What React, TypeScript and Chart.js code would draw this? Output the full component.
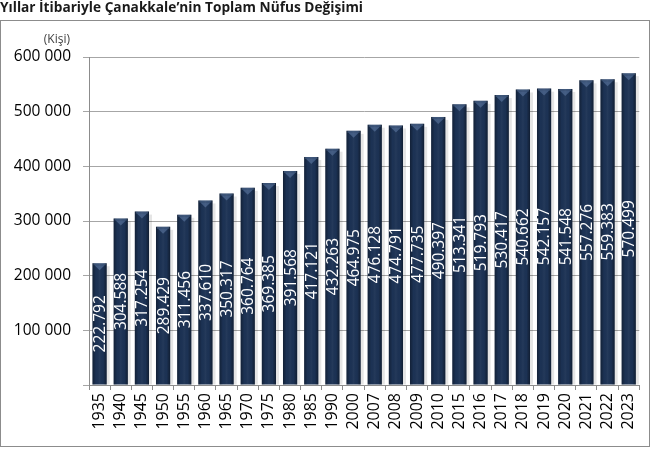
import { useEffect, useRef } from "react";
import { Chart, registerables } from "chart.js";

Chart.register(...registerables);

const TITLE = "Yıllar İtibariyle Çanakkale’nin Toplam Nüfus Değişimi";
const UNIT = "(Kişi)";

const years = [
  "1935", "1940", "1945", "1950", "1955", "1960", "1965", "1970", "1975",
  "1980", "1985", "1990", "2000", "2007", "2008", "2009", "2010", "2015",
  "2016", "2017", "2018", "2019", "2020", "2021", "2022", "2023",
];

const population = [
  222792, 304588, 317254, 289429, 311456, 337610, 350317, 360764, 369385,
  391568, 417121, 432263, 464975, 476128, 474791, 477735, 490397, 513341,
  519793, 530417, 540662, 542157, 541548, 557276, 559383, 570499,
];

const yMin = 0;
const yMax = 600000;
const yStep = 100000;

const FONT = '"Open Sans", "DejaVu Sans", sans-serif';
const BAR_COLOR = "#1c3254";

const fmtTick = (v: number) =>
  v === 0 ? "" : String(v).replace(/\B(?=(\d{3})+(?!\d))/g, " ");
const fmtValue = (v: number) =>
  String(v).replace(/\B(?=(\d{3})+(?!\d))/g, ".");

const decorPlugin = {
  id: "decor",
  beforeDraw(chart: any) {
    const ctx = chart.ctx as CanvasRenderingContext2D;
    ctx.save();
    ctx.fillStyle = "#ffffff";
    ctx.fillRect(0, 0, chart.width, chart.height);
    ctx.strokeStyle = "#8c8c8c";
    ctx.lineWidth = 1;
    ctx.strokeRect(0.5, 20.5, 649, 426);
    ctx.fillStyle = "#1a1a1a";
    ctx.font = `bold 15px ${FONT}`;
    ctx.textAlign = "left";
    ctx.textBaseline = "middle";
    ctx.fillText(TITLE, 0, 7.5, 363);
    ctx.font = `12px ${FONT}`;
    ctx.textAlign = "right";
    ctx.fillStyle = "#404040";
    const yScale = chart.scales.y;
    ctx.fillText(UNIT, 70, yScale.getPixelForValue(yMax) - 17);
    ctx.restore();
  },
  beforeDatasetsDraw(chart: any) {
    const ctx = chart.ctx as CanvasRenderingContext2D;
    const meta = chart.getDatasetMeta(0);
    ctx.save();
    ctx.fillStyle = "rgba(0,0,0,0.10)";
    meta.data.forEach((bar: any) => {
      const right = bar.x + bar.width / 2;
      ctx.fillRect(right, bar.y + 3, 3, bar.base - bar.y - 3);
    });
    ctx.restore();
  },
  afterDatasetsDraw(chart: any) {
    const ctx = chart.ctx as CanvasRenderingContext2D;
    const meta = chart.getDatasetMeta(0);
    const data = chart.data.datasets[0].data as number[];
    ctx.save();
    meta.data.forEach((bar: any, i: number) => {
      const left = bar.x - bar.width / 2;
      const right = bar.x + bar.width / 2;
      const top = bar.y;
      const bottom = bar.base;
      const g = ctx.createLinearGradient(left, 0, right, 0);
      g.addColorStop(0, "rgba(0,0,0,0.35)");
      g.addColorStop(0.25, "rgba(0,0,0,0.0)");
      g.addColorStop(0.5, "rgba(255,255,255,0.04)");
      g.addColorStop(0.75, "rgba(0,0,0,0.0)");
      g.addColorStop(1, "rgba(0,0,0,0.4)");
      ctx.fillStyle = g;
      ctx.fillRect(left, top, right - left, bottom - top);
      // top bevel
      ctx.fillStyle = "rgba(120,150,190,0.35)";
      ctx.fillRect(left + 1, top, right - left - 2, 2);
      ctx.beginPath();
      ctx.moveTo(left + 2, top + 2);
      ctx.lineTo(right - 2, top + 2);
      ctx.lineTo(bar.x, top + 7);
      ctx.closePath();
      ctx.fillStyle = "rgba(110,140,185,0.45)";
      ctx.fill();
      // value label
      ctx.save();
      ctx.translate(bar.x, (top + bottom) / 2);
      ctx.rotate(-Math.PI / 2);
      ctx.font = `15.5px ${FONT}`;
      ctx.fillStyle = "#ffffff";
      ctx.textAlign = "center";
      ctx.textBaseline = "middle";
      ctx.fillText(fmtValue(data[i]), 0, 1);
      ctx.restore();
    });
    ctx.restore();
  },
};

export default function App() {
  const ref = useRef<HTMLCanvasElement | null>(null);
  useEffect(() => {
    if (!ref.current) return;
    const chart = new Chart(ref.current, {
      type: "bar",
      data: {
        labels: years,
        datasets: [
          {
            data: population,
            backgroundColor: BAR_COLOR,
            borderWidth: 0,
            categoryPercentage: 1,
            barPercentage: 0.67,
          },
        ],
      },
      options: {
        animation: false,
        responsive: true,
        maintainAspectRatio: false,
        layout: { padding: { top: 57, right: 3, bottom: 5, left: 0 } },
        plugins: {
          legend: { display: false },
          tooltip: { enabled: false },
          title: { display: false },
        },
        scales: {
          x: {
            afterFit: (s: any) => {
              s.height = 60;
            },
            grid: {
              offset: true,
              drawOnChartArea: false,
              drawTicks: true,
              tickLength: 5,
              color: "#8c8c8c",
            },
            border: { color: "#8c8c8c" },
            ticks: {
              minRotation: 90,
              maxRotation: 90,
              autoSkip: false,
              padding: 3,
              color: "#000000",
              font: { family: FONT, size: 16 },
            },
          },
          y: {
            min: yMin,
            max: yMax,
            afterFit: (s: any) => {
              s.width = 89;
            },
            grid: {
              color: "#a6a6a6",
              drawTicks: true,
              tickLength: 6,
            },
            border: { color: "#8c8c8c" },
            ticks: {
              stepSize: yStep,
              padding: 12,
              color: "#000000",
              font: { family: FONT, size: 15.5 },
              callback: (v: any) => fmtTick(Number(v)),
            },
          },
        },
      },
      plugins: [decorPlugin],
    });
    return () => chart.destroy();
  }, []);
  return (
    <div style={{ position: "absolute", left: 0, top: 0, width: 651, height: 450 }}>
      <canvas ref={ref} />
    </div>
  );
}
